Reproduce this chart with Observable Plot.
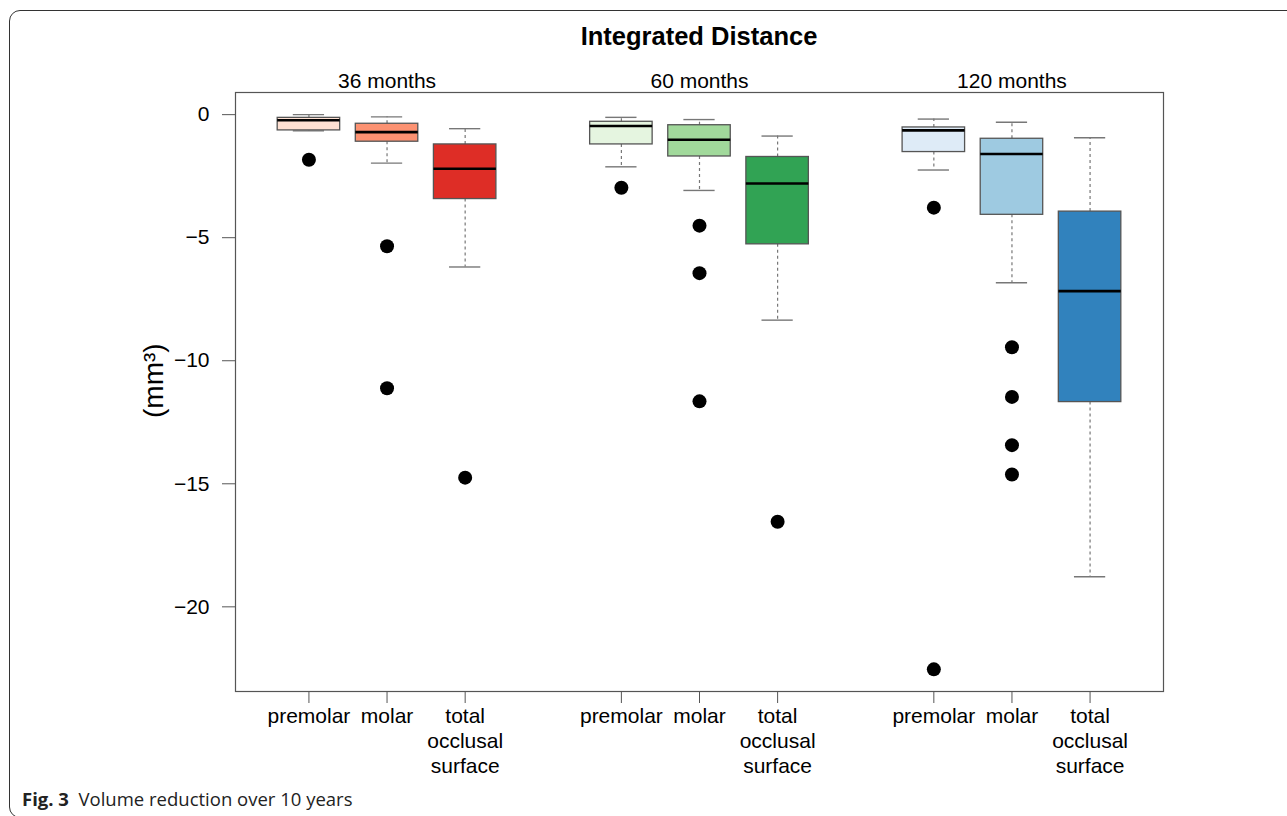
<!DOCTYPE html>
<html><head><meta charset="utf-8">
<script src="https://cdn.jsdelivr.net/npm/d3@7"></script>
<script src="https://cdn.jsdelivr.net/npm/@observablehq/plot@0.6"></script>
<style>
body{margin:0;background:#fff;overflow:hidden;}
#page{position:relative;width:1287px;height:816px;overflow:hidden;font-family:"Liberation Sans",Arial,sans-serif;}
#border{position:absolute;left:9px;top:10px;width:1320px;height:808px;border:1.3px solid #333;border-radius:11px;box-sizing:border-box;}
#title{position:absolute;left:235px;width:928px;top:24px;text-align:center;font:bold 25.5px/25px "Liberation Sans",Arial,sans-serif;color:#000;}
#caption{position:absolute;left:22px;top:790px;font:18.5px/18px "Open Sans",sans-serif;color:#222;white-space:pre;}
#chart{position:absolute;left:0;top:0;}
</style></head><body>
<div id="page"><div id="border"></div><div id="chart"></div><div id="title">Integrated Distance</div><div id="caption"><b>Fig. 3</b>  Volume reduction over 10 years</div></div>
<script>
// groups and categories
const times = ["36 months", "60 months", "120 months"];
const timeCenters = [2, 6, 10];
const regions = ["premolar", "molar", "total\nocclusal\nsurface"];
const positions = [1, 2, 3, 5, 6, 7, 9, 10, 11];
const colors = ["#fee0d2", "#fc9272", "#de2d26", "#e5f5e0", "#a1d99b", "#31a354", "#deebf7", "#9ecae1", "#3182bd"];
// box statistics (mm³), order: 36 pre, mol, tot, 60 pre, mol, tot, 120 pre, mol, tot
const whiskerHigh = [0.00, -0.09, -0.57, -0.11, -0.20, -0.87, -0.18, -0.31, -0.94];
const q3 = [-0.13, -0.37, -1.21, -0.29, -0.43, -1.72, -0.52, -0.98, -3.94];
const median = [-0.23, -0.71, -2.20, -0.46, -1.02, -2.80, -0.64, -1.60, -7.17];
const q1 = [-0.64, -1.10, -3.43, -1.21, -1.70, -5.27, -1.52, -4.07, -11.68];
const whiskerLow = [-0.66, -1.97, -6.19, -2.12, -3.08, -8.35, -2.25, -6.83, -18.78];
const outliers = [[-1.83], [-5.35, -11.12], [-14.75], [-2.97], [-4.51, -6.44, -11.65], [-16.54], [-3.78, -22.54], [-9.45, -11.47, -13.43, -14.62], []];
const yTicks = [0, -5, -10, -15, -20];

const boxes = positions.map((p, i) => ({pos: p, hi: whiskerHigh[i], q3: q3[i], med: median[i], q1: q1[i], lo: whiskerLow[i], color: colors[i]}));
const outlierRows = outliers.flatMap((vals, i) => vals.map(v => ({pos: positions[i], value: v})));
const groupRows = times.map((t, i) => ({label: t, pos: timeCenters[i]}));
const half = 0.4, capHalf = 0.2;

const chart = Plot.plot({
  width: 1287, height: 816,
  marginTop: 92, marginBottom: 125, marginLeft: 235, marginRight: 124,
  style: {fontFamily: '"Liberation Sans", Arial, sans-serif', background: "transparent", color: "#000"},
  x: {domain: [0.06, 11.94]},
  y: {domain: [-23.44, 0.90]},
  color: {type: "identity"},
  marks: [
    Plot.ruleX(boxes, {x: "pos", y1: "q3", y2: "hi", stroke: "#777", strokeWidth: 1.2, strokeDasharray: "3,3"}),
    Plot.ruleX(boxes, {x: "pos", y1: "q1", y2: "lo", stroke: "#777", strokeWidth: 1.2, strokeDasharray: "3,3"}),
    Plot.ruleY(boxes, {y: "hi", x1: d => d.pos - capHalf, x2: d => d.pos + capHalf, stroke: "#777", strokeWidth: 1.4}),
    Plot.ruleY(boxes, {y: "lo", x1: d => d.pos - capHalf, x2: d => d.pos + capHalf, stroke: "#777", strokeWidth: 1.4}),
    Plot.rect(boxes, {x1: d => d.pos - half, x2: d => d.pos + half, y1: "q1", y2: "q3", fill: "color", stroke: "#555", strokeWidth: 1.3}),
    Plot.ruleY(boxes, {y: "med", x1: d => d.pos - half, x2: d => d.pos + half, stroke: "#000", strokeWidth: 2.6}),
    Plot.dot(outlierRows, {x: "pos", y: "value", r: 7, fill: "#000", stroke: null}),
    Plot.frame({stroke: "#555", strokeWidth: 1.2}),
    Plot.axisY({ticks: yTicks, tickSize: 13, tickPadding: 13, fontSize: 21, label: null, stroke: "#555"}),
    Plot.axisX({ticks: positions, tickFormat: d => regions[positions.indexOf(d) % 3], tickSize: 12, tickPadding: 1, fontSize: 21, lineHeight: 1.21, label: null, stroke: "#555"}),
    Plot.text(groupRows, {x: "pos", text: "label", frameAnchor: "top", lineAnchor: "bottom", dy: -5, fontSize: 21}),
    Plot.text(["(mm³)"], {frameAnchor: "left", rotate: -90, dx: -81, dy: 26, fontSize: 28})
  ]
});
document.getElementById("chart").appendChild(chart);
</script>
</body></html>
